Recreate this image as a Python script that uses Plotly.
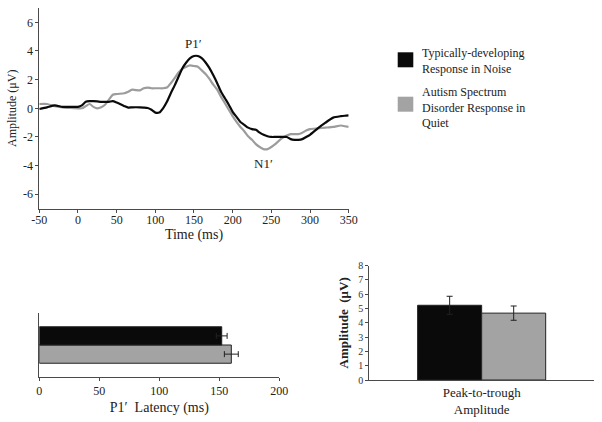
import plotly.graph_objects as go

# ---- data ----
time_ms = [-50, -40, -30, -20, -10, 0, 5, 10, 15, 20, 25, 30, 35, 40, 45, 50, 60, 65, 70, 80, 85, 90, 95,
           100, 105, 110, 115, 120, 125, 130, 135, 140, 145, 150, 155, 160, 165, 170, 175, 180, 185,
           190, 195, 200, 205, 210, 215, 220, 225, 230, 235, 240, 245, 250, 255, 260, 265, 270, 275,
           280, 285, 290, 295, 300, 310, 320, 330, 340, 345, 350]
td_noise = [-0.05, 0.07, 0.2, 0.1, 0.1, 0.1, 0.2, 0.45, 0.5, 0.5, 0.48, 0.45, 0.45, 0.45, 0.5, 0.4, 0.15,
            0.05, 0.07, 0.07, 0.05, 0.02, -0.1, -0.3, -0.3, 0.0, 0.45, 1.05, 1.6, 2.2, 2.8, 3.2, 3.5,
            3.65, 3.65, 3.5, 3.2, 2.8, 2.3, 1.75, 1.15, 0.7, 0.25, -0.25, -0.6, -0.95, -1.15, -1.35,
            -1.45, -1.5, -1.7, -1.85, -1.95, -2.0, -2.0, -2.0, -2.0, -2.0, -2.15, -2.2, -2.2, -2.15,
            -2.0, -1.85, -1.4, -1.0, -0.65, -0.55, -0.52, -0.5]
asd_quiet = [0.3, 0.3, 0.15, 0.07, 0.02, 0.0, 0.0, 0.15, 0.3, 0.1, 0.0, 0.07, 0.25, 0.6, 0.95, 1.0, 1.05,
             1.15, 1.3, 1.25, 1.4, 1.45, 1.4, 1.4, 1.4, 1.4, 1.45, 1.75, 2.1, 2.5, 2.75, 2.9, 3.0,
             2.95, 2.9, 2.65, 2.4, 2.05, 1.65, 1.3, 0.8, 0.35, -0.1, -0.55, -0.95, -1.3, -1.6, -1.95,
             -2.2, -2.5, -2.7, -2.85, -2.85, -2.7, -2.5, -2.25, -2.05, -1.9, -1.8, -1.8, -1.8, -1.7,
             -1.55, -1.45, -1.4, -1.35, -1.3, -1.2, -1.25, -1.3]

groups = ["Typically-developing<br>Response in Noise", "Autism Spectrum<br>Disorder Response in<br>Quiet"]
latency = [152, 160]
latency_err = [4.5, 5.8]
amplitude = [5.23, 4.68]
amplitude_err = [0.63, 0.5]
amp_category = ["Peak-to-trough<br>Amplitude"]
lat_category = ["P1"]

x_ticks = [-50, 0, 50, 100, 150, 200, 250, 300, 350]
x_ticktext = ["-50", "0", "50", "100", "150", "200", "250", "300", "350"]
y_ticks = [-6, -4, -2, 0, 2, 4, 6]
y_ticktext = ["-6", "-4", "-2", "0", "2", "4", "6"]
lat_ticks = [0, 50, 100, 150, 200]

colors = ["#0a0a0a", "#a3a3a3"]
FONT = "Liberation Serif"
AX = "#4a4a4a"

fig = go.Figure()

# ---- top waveform ----
fig.add_trace(go.Scatter(x=time_ms, y=asd_quiet, mode="lines", line=dict(color="#9c9c9c", width=2.2, shape="spline", smoothing=0.6),
                         xaxis="x", yaxis="y", showlegend=False))
fig.add_trace(go.Scatter(x=time_ms, y=td_noise, mode="lines", line=dict(color="#0a0a0a", width=2.2, shape="spline", smoothing=0.6),
                         xaxis="x", yaxis="y", showlegend=False))

# ---- bottom-right amplitude bars ----
for i in range(2):
    fig.add_trace(go.Bar(x=amp_category, y=[amplitude[i]], marker=dict(color=colors[i], line=dict(color="#222", width=1)),
                         error_y=dict(type="data", array=[amplitude_err[i]], color="#222", thickness=1, width=3),
                         xaxis="x3", yaxis="y3", showlegend=False))

# ---- bottom-left latency bars (gray first so black sits on top) ----
for i in [1, 0]:
    fig.add_trace(go.Bar(y=lat_category, x=[latency[i]], orientation="h",
                         marker=dict(color=colors[i], line=dict(color="#222", width=1)),
                         error_x=dict(type="data", array=[latency_err[i]], color="#222", thickness=1, width=3),
                         xaxis="x2", yaxis="y2", showlegend=False))

axfont = dict(family=FONT, size=12, color="#222")
fig.update_layout(
    width=602, height=422,
    margin=dict(l=0, r=0, t=0, b=0),
    paper_bgcolor="white", plot_bgcolor="white",
    barmode="group", bargap=0.43,
    font=dict(family=FONT, color="#222"),
    xaxis=dict(domain=[0.0653, 0.5792], range=[-50, 350], tickvals=x_ticks, ticktext=x_ticktext, showline=True,
               linecolor=AX, linewidth=1, automargin=False,
               ticks="outside", ticklen=3, tickcolor=AX, showgrid=False, zeroline=False, tickfont=axfont,
               title=dict(text="Time (ms)", font=dict(family=FONT, size=14, color="#222"), standoff=0),
               anchor="y"),
    yaxis=dict(domain=[0.5057, 0.981], range=[-7, 7], tickvals=y_ticks, ticktext=y_ticktext, showline=True,
               linecolor=AX, linewidth=1, automargin=False,
               ticks="outside", ticklen=3, tickcolor=AX, showgrid=False, zeroline=False, tickfont=axfont,
               title=dict(text="Amplitude (μV)", font=dict(family=FONT, size=12, color="#222"), standoff=3),
               anchor="x"),
    xaxis2=dict(domain=[0.0653, 0.464], range=[0, 200], tickvals=lat_ticks, showline=True, linecolor=AX,
                linewidth=1, ticks="outside", ticklen=3, tickcolor=AX, showgrid=False, zeroline=False, tickfont=axfont,
                automargin=False,
                title=dict(text="P1′  Latency (ms)", font=dict(family=FONT, size=14, color="#222"), standoff=4),
                anchor="y2"),
    yaxis2=dict(domain=[0.1066, 0.2583], range=[-0.5, 0.5], showline=True, linecolor=AX, linewidth=1,
                automargin=False,
                showticklabels=False, ticks="", showgrid=False, zeroline=False, anchor="x2", type="category"),
    xaxis3=dict(domain=[0.6135, 0.9867], showline=True, linecolor=AX, linewidth=1, ticks="", showgrid=False,
                automargin=False,
                zeroline=False, tickfont=dict(family=FONT, size=13, color="#222"), anchor="y3"),
    yaxis3=dict(domain=[0.0995, 0.3704], range=[0, 8], dtick=1, showline=True, linecolor=AX, linewidth=1,
                automargin=False,
                ticks="outside", ticklen=3, tickcolor=AX, showgrid=False, zeroline=False,
                tickfont=dict(family=FONT, size=10, color="#333"),
                title=dict(text="<b>Amplitude  (μV)</b>", font=dict(family=FONT, size=13, color="#222"), standoff=6),
                anchor="x3"),
)

try:
    fig.update_xaxes(ticklabelstandoff=-3, selector=dict(anchor="y"))
except Exception:
    pass

# peak labels
fig.add_annotation(x=150, y=4.55, xref="x", yref="y", text="P1′", showarrow=False,
                   font=dict(family=FONT, size=13, color="#222"))
fig.add_annotation(x=240, y=-3.85, xref="x", yref="y", text="N1′", showarrow=False,
                   font=dict(family=FONT, size=13, color="#222"))

# legend (manual)
leg_y = [61, 107]
for i in range(2):
    yc = leg_y[i]
    sq_c = 59.8 if i == 0 else 104.2
    fig.add_shape(type="rect", xref="paper", yref="paper",
                  x0=397.7 / 602, x1=413.3 / 602, y0=1 - (sq_c + 7.5) / 422, y1=1 - (sq_c - 7.5) / 422,
                  fillcolor=colors[i], line=dict(width=0))
    fig.add_annotation(x=420 / 602, y=1 - yc / 422, xref="paper", yref="paper", text=groups[i],
                       showarrow=False, xanchor="left", yanchor="middle", align="left",
                       font=dict(family=FONT, size=12, color="#222"))

fig.write_html("out.html", config={"displayModeBar": False},
               post_script="document.body.style.margin='0px';document.body.style.overflow='hidden';")
